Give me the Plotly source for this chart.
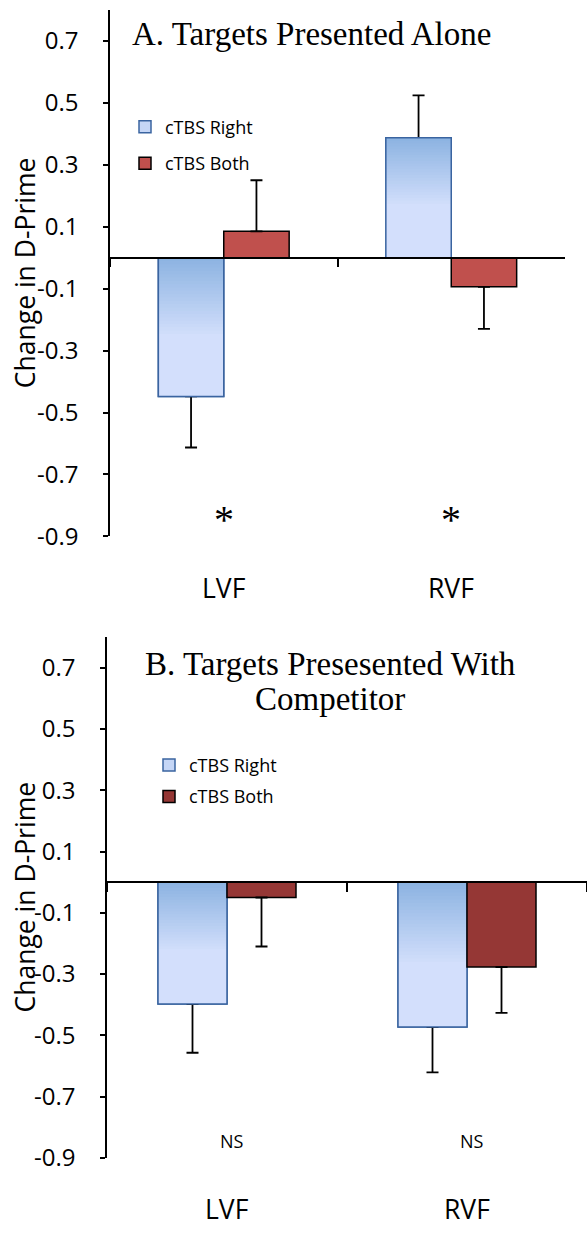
import plotly.graph_objects as go
import numpy as np

# ---------------- data ----------------
categories = ["LVF", "RVF"]
series_names = ["cTBS Right", "cTBS Both"]

a_right = [-0.448, 0.387]
a_right_err = [0.165, 0.137]
a_both = [0.085, -0.094]
a_both_err = [0.165, 0.136]

b_right = [-0.398, -0.473]
b_right_err = [0.159, 0.148]
b_both = [-0.05, -0.277]
b_both_err = [0.16, 0.15]

a_marks = ["*", "*"]
b_marks = ["NS", "NS"]

tick_vals = [-0.9, -0.7, -0.5, -0.3, -0.1, 0.1, 0.3, 0.5, 0.7]
tick_text = ["-0.9", "-0.7", "-0.5", "-0.3", "-0.1", "0.1", "0.3", "0.5", "0.7"]
y_range = [-0.9, 0.8]

title_a = "A. Targets Presented Alone"
title_b_lines = ["B. Targets Presesented With", "Competitor"]
y_title = "Change in D-Prime"

# ---------------- styling ----------------
W, H = 587, 1237
SANS = "Open Sans"
SERIF = "Liberation Serif"
BLUE_DARK = np.array([141, 180, 226])
BLUE_LIGHT = np.array([211, 223, 252])
BLUE_LINE = "#3A64A0"
RED_A = "#C0504D"
RED_B = "#953735"

panels = [
    dict(x0=110, x1=565, ytop=10, ybot=543, xa="x", ya="y", leg="legend", red=RED_A,
         right=a_right, right_err=a_right_err, both=a_both, both_err=a_both_err),
    dict(x0=107, x1=587, ytop=645, ybot=1172, xa="x2", ya="y2", leg="legend2", red=RED_B,
         right=b_right, right_err=b_right_err, both=b_both, both_err=b_both_err),
]

fig = go.Figure()
N_SEG = 24
FADE = 0.55


def plus_minus(vals, errs):
    plus = [e if v >= 0 else 0 for v, e in zip(vals, errs)]
    minus = [e if v < 0 else 0 for v, e in zip(vals, errs)]
    return plus, minus


for k, p in enumerate(panels):
    pl, mi = plus_minus(p["right"], p["right_err"])
    fig.add_trace(go.Bar(
        x=categories, y=p["right"], name=series_names[0], offsetgroup="R",
        legendgroup="R%d" % k,
        xaxis=p["xa"], yaxis=p["ya"], legend=p["leg"],
        marker=dict(color="rgb(197,214,246)", line=dict(color=BLUE_LINE, width=1.5)),
        error_y=dict(type="data", symmetric=False, array=pl, arrayminus=mi,
                     color="black", thickness=1.8, width=6),
        hoverinfo="skip",
    ))
    tops = [max(0, v) for v in p["right"]]
    bots = [min(0, v) for v in p["right"]]
    for i in range(N_SEG):
        t = i / (N_SEG - 1)
        c = BLUE_DARK + (BLUE_LIGHT - BLUE_DARK) * t
        frac = FADE * i / (N_SEG - 1)
        seg_top = [tp - frac * (tp - bt) for tp, bt in zip(tops, bots)]
        fig.add_trace(go.Bar(
            x=categories, y=[st - bt for st, bt in zip(seg_top, bots)], base=bots,
            offsetgroup="R", xaxis=p["xa"], yaxis=p["ya"], showlegend=False,
            marker=dict(color="rgb(%d,%d,%d)" % tuple(c.astype(int)), line=dict(width=0)),
            hoverinfo="skip",
        ))
    fig.add_trace(go.Bar(
        x=categories, y=p["right"], offsetgroup="R", xaxis=p["xa"], yaxis=p["ya"],
        showlegend=False,
        marker=dict(color="rgba(0,0,0,0)", line=dict(color=BLUE_LINE, width=1.5)),
        hoverinfo="skip",
    ))
    pl, mi = plus_minus(p["both"], p["both_err"])
    fig.add_trace(go.Bar(
        x=categories, y=p["both"], name=series_names[1], offsetgroup="B",
        legendgroup="B%d" % k,
        xaxis=p["xa"], yaxis=p["ya"], legend=p["leg"],
        marker=dict(color=p["red"], line=dict(color="black", width=1.5)),
        error_y=dict(type="data", symmetric=False, array=pl, arrayminus=mi,
                     color="black", thickness=1.8, width=6),
        hoverinfo="skip",
    ))


def dom_y(p):
    return [1 - p["ybot"] / H, 1 - p["ytop"] / H]


layout_axes = {}
for k, p in enumerate(panels):
    dy = dom_y(p)
    zero_pos = dy[0] + (0 - y_range[0]) / (y_range[1] - y_range[0]) * (dy[1] - dy[0])
    xk = "xaxis" if k == 0 else "xaxis2"
    yk = "yaxis" if k == 0 else "yaxis2"
    layout_axes[xk] = dict(
        domain=[p["x0"] / W, p["x1"] / W], type="category", range=[-0.5, 1.5],
        anchor="free", position=zero_pos, showline=True, linecolor="black", linewidth=1.5,
        ticks="outside", tickson="boundaries", ticklen=9, tickwidth=1.5, tickcolor="black",
        showticklabels=False, showgrid=False, zeroline=False, fixedrange=True,
    )
    layout_axes[yk] = dict(
        domain=dy, range=y_range, anchor=p["xa"], showline=True, linecolor="black",
        linewidth=1.5, ticks="outside", ticklen=5, tickwidth=1.5, tickcolor="black",
        tickvals=tick_vals, ticktext=tick_text, showgrid=False, zeroline=False,
        tickfont=dict(family=SANS, size=24, color="black"), ticklabelstandoff=20,
        fixedrange=True,
    )

annotations = []
annotations.append(dict(text=title_a, x=311 / W, y=1 - 34 / H, xref="paper", yref="paper",
                        showarrow=False, font=dict(family=SERIF, size=33, color="black"),
                        xanchor="center", yanchor="middle"))
for line, py in zip(title_b_lines, [672, 708]):
    annotations.append(dict(text=line, x=330 / W, y=1 - py / H, xref="paper", yref="paper",
                            showarrow=False, font=dict(family=SERIF, size=33, color="black"),
                            xanchor="center", yanchor="middle"))
for k, p in enumerate(panels):
    dy = dom_y(p)
    annotations.append(dict(text=y_title, x=25 / W, y=(dy[0] + dy[1]) / 2, xref="paper",
                            yref="paper", textangle=-90, showarrow=False,
                            font=dict(family=SANS, size=26.5, color="black"),
                            xanchor="center", yanchor="middle"))
    lab_y = 1 - (p["ybot"] + 52) / H
    for c in categories:
        annotations.append(dict(text=c, x=c, xref=p["xa"], y=lab_y, yref="paper",
                                showarrow=False, font=dict(family=SANS, size=26.5, color="black"),
                                xanchor="center", yanchor="middle"))
for c, m in zip(categories, a_marks):
    annotations.append(dict(text=m, x=c, xref="x", y=-0.82, yref="y", showarrow=False,
                            font=dict(family=SERIF, size=40, color="black"),
                            xanchor="center", yanchor="middle", yshift=-8))
for c, m in zip(categories, b_marks):
    annotations.append(dict(text=m, x=c, xref="x2", y=-0.845, yref="y2", showarrow=False,
                            font=dict(family=SANS, size=18, color="black"),
                            xanchor="center", yanchor="middle", xshift=5))

fig.update_layout(
    width=W, height=H, margin=dict(l=0, r=0, t=0, b=0),
    paper_bgcolor="white", plot_bgcolor="rgba(0,0,0,0)",
    barmode="group", bargap=0.425, bargroupgap=0,
    showlegend=True,
    legend=dict(x=125 / W, y=1 - 110 / H, xanchor="left", yanchor="top",
                bgcolor="rgba(0,0,0,0)", font=dict(family=SANS, size=18, color="black"),
                itemwidth=30, tracegroupgap=10),
    legend2=dict(x=149 / W, y=1 - 756 / H, xanchor="left", yanchor="top",
                 bgcolor="rgba(0,0,0,0)", font=dict(family=SANS, size=18, color="black"),
                 itemwidth=30, tracegroupgap=5),
    annotations=annotations,
    **layout_axes,
)

fig.write_html("out.html")
